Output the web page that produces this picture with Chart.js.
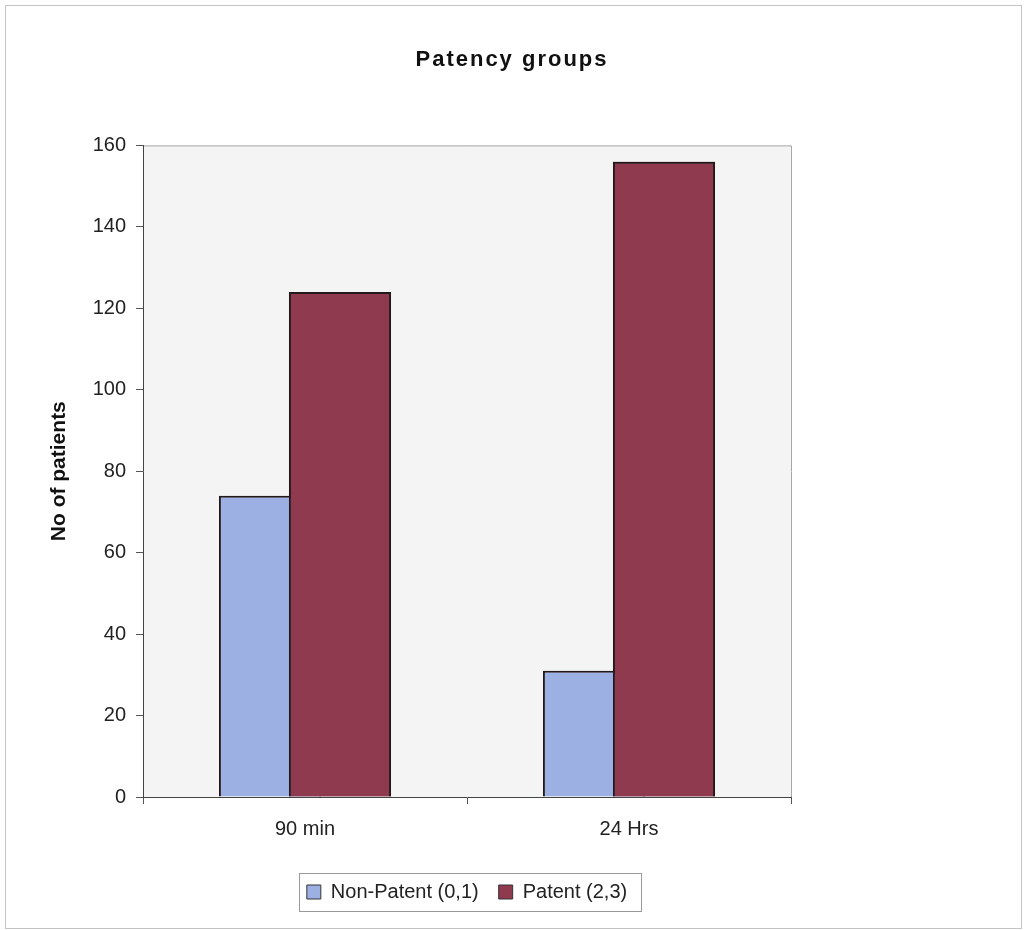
<!DOCTYPE html>
<html>
<head>
<meta charset="utf-8">
<script src="https://cdn.jsdelivr.net/npm/chart.js@4.4.0/dist/chart.umd.min.js"></script>
<style>
  html, body { margin: 0; padding: 0; background: #fff; }
  #wrap { width: 1024px; height: 930px; }
</style>
</head>
<body>
<div id="wrap"><canvas id="chart" width="1024" height="930"></canvas></div>
<script>
// data
const categories = ['90 min', '24 Hrs'];
const nonPatent = [74, 31];
const patent = [124, 156];
const yMin = 0;
const yMax = 160;
const yStep = 20;

const FONT = '"Liberation Sans", Arial, sans-serif';

// frame, plot background, plot border, legend box
const framePlugin = {
    id: 'frame',
    afterLayout(chart) {
        // title centred on the whole page, legend centred under the plot
        const a = chart.chartArea;
        chart.titleBlock.left = 0;
        chart.titleBlock.right = chart.width;
        chart.legend.left = a.left;
        chart.legend.right = a.right;
    },
    beforeDraw(chart) {
        const ctx = chart.ctx;
        const a = chart.chartArea;
        ctx.save();
        ctx.fillStyle = '#ffffff';
        ctx.fillRect(0, 0, chart.width, chart.height);
        ctx.strokeStyle = '#c4c4c4';
        ctx.lineWidth = 1;
        ctx.strokeRect(5.5, 5.5, 1016, 923);
        ctx.fillStyle = '#f4f4f4';
        ctx.fillRect(a.left, a.top, a.right - a.left, a.bottom - a.top);
        ctx.strokeStyle = '#a8a8a8';
        ctx.beginPath();
        ctx.moveTo(a.left, a.top + 0.5);
        ctx.lineTo(a.right + 0.5, a.top + 0.5);
        ctx.lineTo(a.right + 0.5, a.bottom);
        ctx.stroke();
        ctx.restore();
    },
    afterDatasetsDraw(chart) {
        // patent bars overlap the non-patent ones, so draw them again on top
        chart.getDatasetMeta(1).controller.draw();
    },
    afterDraw(chart) {
        const boxes = chart.legend.legendHitBoxes;
        if (!boxes || !boxes.length) return;
        let l = Infinity, r = -Infinity, t = Infinity, b = -Infinity;
        boxes.forEach(h => {
            l = Math.min(l, h.left);
            r = Math.max(r, h.left + h.width);
            t = Math.min(t, h.top);
            b = Math.max(b, h.top + h.height);
        });
        const ctx = chart.ctx;
        ctx.save();
        ctx.strokeStyle = '#9a9a9a';
        ctx.lineWidth = 1;
        ctx.strokeRect(Math.round(l - 8) + 0.5, Math.round(t - 9) + 0.5, Math.round(r - l + 22), Math.round(b - t + 18));
        ctx.restore();
    }
};

const ctx = document.getElementById('chart').getContext('2d');
const chart = new Chart(ctx, {
    type: 'bar',
    data: {
        labels: categories,
        datasets: [
            {
                label: 'Non-Patent (0,1)',
                data: nonPatent,
                backgroundColor: '#9db0e4',
                borderColor: '#23181c',
                borderWidth: 2,
                borderSkipped: 'bottom',
                categoryPercentage: 0.432,
                barPercentage: 1.46
            },
            {
                label: 'Patent (2,3)',
                data: patent,
                backgroundColor: '#8f3a4e',
                borderColor: '#23181c',
                borderWidth: 2,
                borderSkipped: 'bottom',
                categoryPercentage: 0.432,
                barPercentage: 1.46
            }
        ]
    },
    options: {
        responsive: false,
        animation: false,
        devicePixelRatio: 1,
        layout: {
            padding: { left: 0, right: 233, top: 0, bottom: 18 }
        },
        scales: {
            x: {
                grid: {
                    offset: true,
                    drawOnChartArea: false,
                    drawTicks: true,
                    tickLength: 7,
                    tickColor: '#555'
                },
                border: { color: '#444', width: 1 },
                ticks: {
                    color: '#222',
                    padding: 13,
                    font: { family: FONT, size: 20 }
                },
                afterFit(scale) { scale.height = 65; }
            },
            y: {
                min: yMin,
                max: yMax,
                grid: {
                    drawOnChartArea: false,
                    drawTicks: true,
                    tickLength: 7,
                    tickColor: '#555'
                },
                border: { color: '#444', width: 1 },
                ticks: {
                    stepSize: yStep,
                    color: '#222',
                    padding: 10,
                    font: { family: FONT, size: 20 }
                },
                title: {
                    display: true,
                    text: 'No of patients',
                    color: '#111',
                    font: { family: FONT, size: 21, weight: 'bold' },
                    padding: { top: 47, bottom: 0 }
                },
                afterFit(scale) { scale.width = 143; }
            }
        },
        plugins: {
            title: {
                display: true,
                text: 'Patency groups',
                color: '#111',
                font: { family: FONT, size: 22, weight: 'bold' },
                padding: { top: 47, bottom: 72 }
            },
            legend: {
                position: 'bottom',
                labels: {
                    color: '#222',
                    boxWidth: 14,
                    boxHeight: 14,
                    padding: 20,
                    font: { family: FONT, size: 20 },
                    generateLabels(chart) {
                        return chart.data.datasets.map((ds, i) => ({
                            text: ds.label,
                            fillStyle: ds.backgroundColor,
                            strokeStyle: '#333',
                            lineWidth: 1,
                            datasetIndex: i,
                            hidden: false,
                            fontColor: '#222'
                        }));
                    }
                }
            },
            tooltip: { enabled: false }
        }
    },
    plugins: [framePlugin]
});

// the reference title is set a little wider
const titleDraw = chart.titleBlock.draw.bind(chart.titleBlock);
chart.titleBlock.draw = function () {
    chart.ctx.save();
    chart.ctx.letterSpacing = '2px';
    titleDraw();
    chart.ctx.restore();
};
chart.draw();
</script>
</body>
</html>
